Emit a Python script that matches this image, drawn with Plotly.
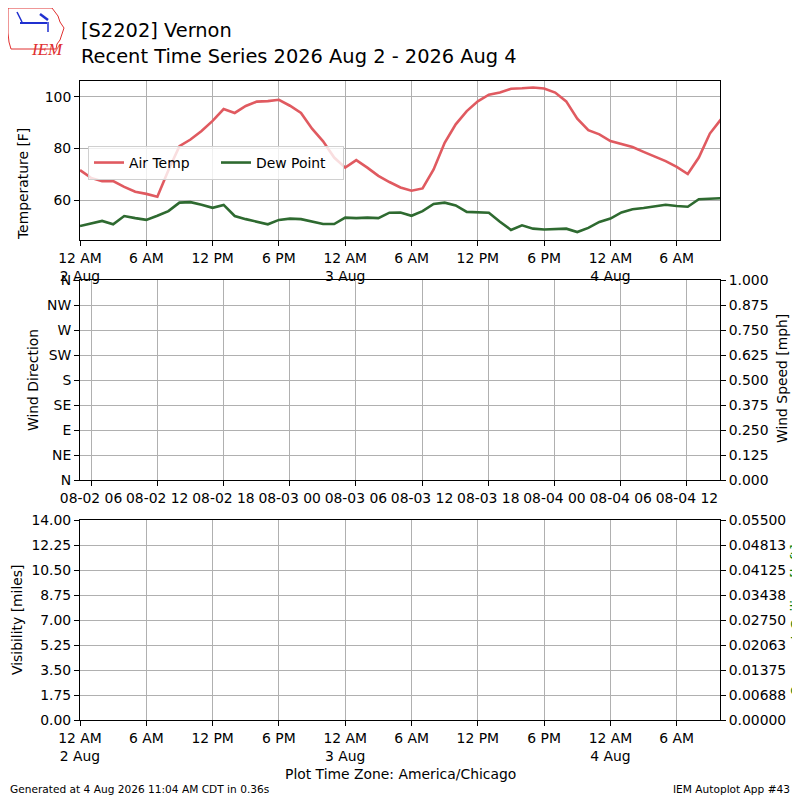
import plotly.graph_objects as go
import pandas as pd

# hourly observations, 2 Aug 00:00 .. 4 Aug 10:00 (America/Chicago)
times = pd.date_range("2026-08-02 00:00", "2026-08-04 10:00", freq="h")

air_temp = [71.6, 68.6, 67.3, 67.4, 65.1, 63.2, 62.4, 61.3, 71.6, 80.9,
            83.5, 86.8, 90.7, 95.3, 93.8, 96.5, 98.2, 98.4, 98.9, 96.6,
            93.8, 87.7, 82.8, 76.5, 72.6, 75.5, 72.6, 69.4, 67.0, 64.9,
            63.6, 64.5, 71.9, 82.2, 89.4, 94.5, 98.3, 100.9, 101.7, 103.2,
            103.4, 103.7, 103.3, 101.7, 98.3, 91.6, 87.1, 85.5, 82.9, 81.7,
            80.6, 78.7, 77.0, 75.1, 72.9, 70.1, 76.5, 85.8, 91.3]

dew_point = [49.9, 51.0, 51.9, 50.6, 53.8, 53.0, 52.3, 53.9, 55.7, 59.0,
             59.2, 58.2, 57.0, 58.1, 53.8, 52.6, 51.6, 50.6, 52.3, 52.8,
             52.6, 51.5, 50.7, 50.7, 53.2, 53.0, 53.2, 53.0, 55.1, 55.2,
             53.9, 55.7, 58.5, 59.0, 57.9, 55.4, 55.2, 55.1, 51.6, 48.4,
             50.2, 48.9, 48.6, 48.8, 48.9, 47.6, 49.2, 51.5, 52.8, 55.2,
             56.4, 56.9, 57.6, 58.2, 57.7, 57.4, 60.3, 60.5, 60.7]

tick_times = ["2026-08-02 00:00", "2026-08-02 06:00", "2026-08-02 12:00",
              "2026-08-02 18:00", "2026-08-03 00:00", "2026-08-03 06:00",
              "2026-08-03 12:00", "2026-08-03 18:00", "2026-08-04 00:00",
              "2026-08-04 06:00"]
tick_labels = ["12 AM<br>2 Aug", "6 AM", "12 PM", "6 PM", "12 AM<br>3 Aug",
               "6 AM", "12 PM", "6 PM", "12 AM<br>4 Aug", "6 AM"]

dir_vals = [0, 45, 90, 135, 180, 225, 270, 315, 360]
dir_labels = ["N", "NE", "E", "SE", "S", "SW", "W", "NW", "N"]
speed_ticks = [i * 0.125 for i in range(9)]
vis_ticks = [i * 1.75 for i in range(9)]
ceil_ticks = [i * 0.006875 for i in range(9)]

# the page puts the plot 8px in from the corner, so the figure is 8px smaller
OFF = 8
W = H = 800 - OFF
FONT = "DejaVu Sans"
TFS = 13.9


def px(x):
    return (x - OFF) / W


def py(y):
    return 1 - (y - OFF) / H


fig = go.Figure()
fig.add_trace(go.Scatter(x=times, y=air_temp, mode="lines", name="Air Temp",
                         line=dict(color="#e05a60", width=2.6)))
fig.add_trace(go.Scatter(x=times, y=dew_point, mode="lines", name="Dew Point",
                         line=dict(color="#2e6a30", width=2.6)))
# empty panels (no wind / visibility / ceiling data reported)
for xa, ya in [("x2", "y2"), ("x2", "y3"), ("x3", "y4"), ("x3", "y5")]:
    fig.add_trace(go.Scatter(x=[], y=[], xaxis=xa, yaxis=ya, showlegend=False))

axis_common = dict(showline=True, linecolor="black", linewidth=1, mirror=True,
                   ticks="outside", ticklen=5, tickcolor="black",
                   showgrid=True, gridcolor="#b0b0b0", gridwidth=1,
                   zeroline=False, automargin=False,
                   tickfont=dict(family=FONT, size=TFS, color="black"))

full_range = ["2026-08-02 00:00", "2026-08-04 09:55"]

fig.update_layout(
    width=W, height=H,
    margin=dict(l=0, r=0, t=0, b=0),
    paper_bgcolor="white", plot_bgcolor="white",
    font=dict(family=FONT, size=TFS, color="black"),
    showlegend=True,
    legend=dict(orientation="h", x=px(88), y=py(146), xanchor="left", yanchor="top",
                bgcolor="rgba(255,255,255,0.8)", bordercolor="#d0d0d0", borderwidth=1,
                font=dict(family=FONT, size=TFS), itemwidth=30,
                entrywidth=82, entrywidthmode="pixels"),
    xaxis=dict(axis_common, domain=[px(80), px(720)], anchor="y", type="date",
               range=full_range, tickmode="array", tickvals=tick_times,
               ticktext=tick_labels),
    yaxis=dict(axis_common, domain=[py(240), py(81)], anchor="x",
               range=[44.5, 106.2], tickvals=[60, 80, 100]),
    xaxis2=dict(axis_common, domain=[px(80), px(720)], anchor="y2", type="date",
                range=["2026-08-02 05:00", "2026-08-04 15:00"],
                tick0="2026-08-02 00:00", dtick=6 * 3600 * 1000,
                tickformat="%m-%d %H"),
    yaxis2=dict(axis_common, domain=[py(480), py(280)], anchor="x2",
                range=[0, 360], tickmode="array", tickvals=dir_vals,
                ticktext=dir_labels),
    yaxis3=dict(axis_common, overlaying="y2", side="right", anchor="x2",
                range=[0, 1], tickmode="array", tickvals=speed_ticks,
                tickformat=".3f", showgrid=False, mirror=False),
    xaxis3=dict(axis_common, domain=[px(80), px(720)], anchor="y4", type="date",
                range=full_range, tickmode="array", tickvals=tick_times,
                ticktext=tick_labels),
    yaxis4=dict(axis_common, domain=[py(720), py(520)], anchor="x3",
                range=[0, 14], tickmode="array", tickvals=vis_ticks,
                tickformat=".2f"),
    yaxis5=dict(axis_common, overlaying="y4", side="right", anchor="x3",
                range=[0, 0.055], tickmode="array", tickvals=ceil_ticks,
                tickformat=".5f", showgrid=False, mirror=False),
)


def note(text, x, y, size=TFS, color="black", angle=0, xanchor="center", **kw):
    fig.add_annotation(text=text, x=px(x), y=py(y), xref="paper", yref="paper",
                       xanchor=xanchor, yanchor="middle", showarrow=False,
                       textangle=angle, font=dict(family=FONT, size=size, color=color),
                       **kw)


note("[S2202] Vernon", 79, 30, size=19.4, xanchor="left")
note("Recent Time Series 2026 Aug 2 - 2026 Aug 4", 79, 57, size=19.4, xanchor="left")
note("Temperature [F]", 23, 184, angle=-90)
note("Wind Direction", 33, 380, angle=-90)
note("Wind Speed [mph]", 782, 379, angle=-90)
note("Visibility [miles]", 17, 620, angle=-90)
note("Overcast Ceiling [k ft]", 796, 620, angle=-90, color="green")
note("Plot Time Zone: America/Chicago", 400, 774)
note("Generated at 4 Aug 2026 11:04 AM CDT in 0.36s", 8, 789, size=10.6, xanchor="left")
note("IEM Autoplot App #43", 792, 789, size=10.6, xanchor="right")

# rough IEM logo: Iowa outline + text
outline = [(8, 8), (52, 8), (55, 12), (58, 16), (60, 22), (64, 28), (62, 34),
           (60, 40), (57, 44), (56, 49), (11, 49), (9, 42), (8, 33), (8, 20), (8, 8)]
path = "M " + " L ".join(f"{px(a):.5f},{py(b):.5f}" for a, b in outline) + " Z"
fig.add_shape(type="path", path=path, xref="paper", yref="paper",
              line=dict(color="#e03030", width=1))
fig.add_shape(type="line", xref="paper", yref="paper", x0=px(20), y0=py(23),
              x1=px(47), y1=py(23), line=dict(color="#2030d0", width=2))
fig.add_shape(type="line", xref="paper", yref="paper", x0=px(17), y0=py(12),
              x1=px(22), y1=py(22), line=dict(color="#2030d0", width=1.5))
fig.add_shape(type="line", xref="paper", yref="paper", x0=px(40), y0=py(14),
              x1=px(48), y1=py(20), line=dict(color="#2030d0", width=2.5))
fig.add_shape(type="line", xref="paper", yref="paper", x0=px(48), y0=py(22),
              x1=px(48), y1=py(32), line=dict(color="#2030d0", width=1.5))
fig.add_annotation(text="<i>IEM</i>", x=px(29), y=py(38), xref="paper", yref="paper",
                   showarrow=False, font=dict(family="Liberation Serif", size=17,
                                              color="#e03030"))

fig.write_html("out.html")
